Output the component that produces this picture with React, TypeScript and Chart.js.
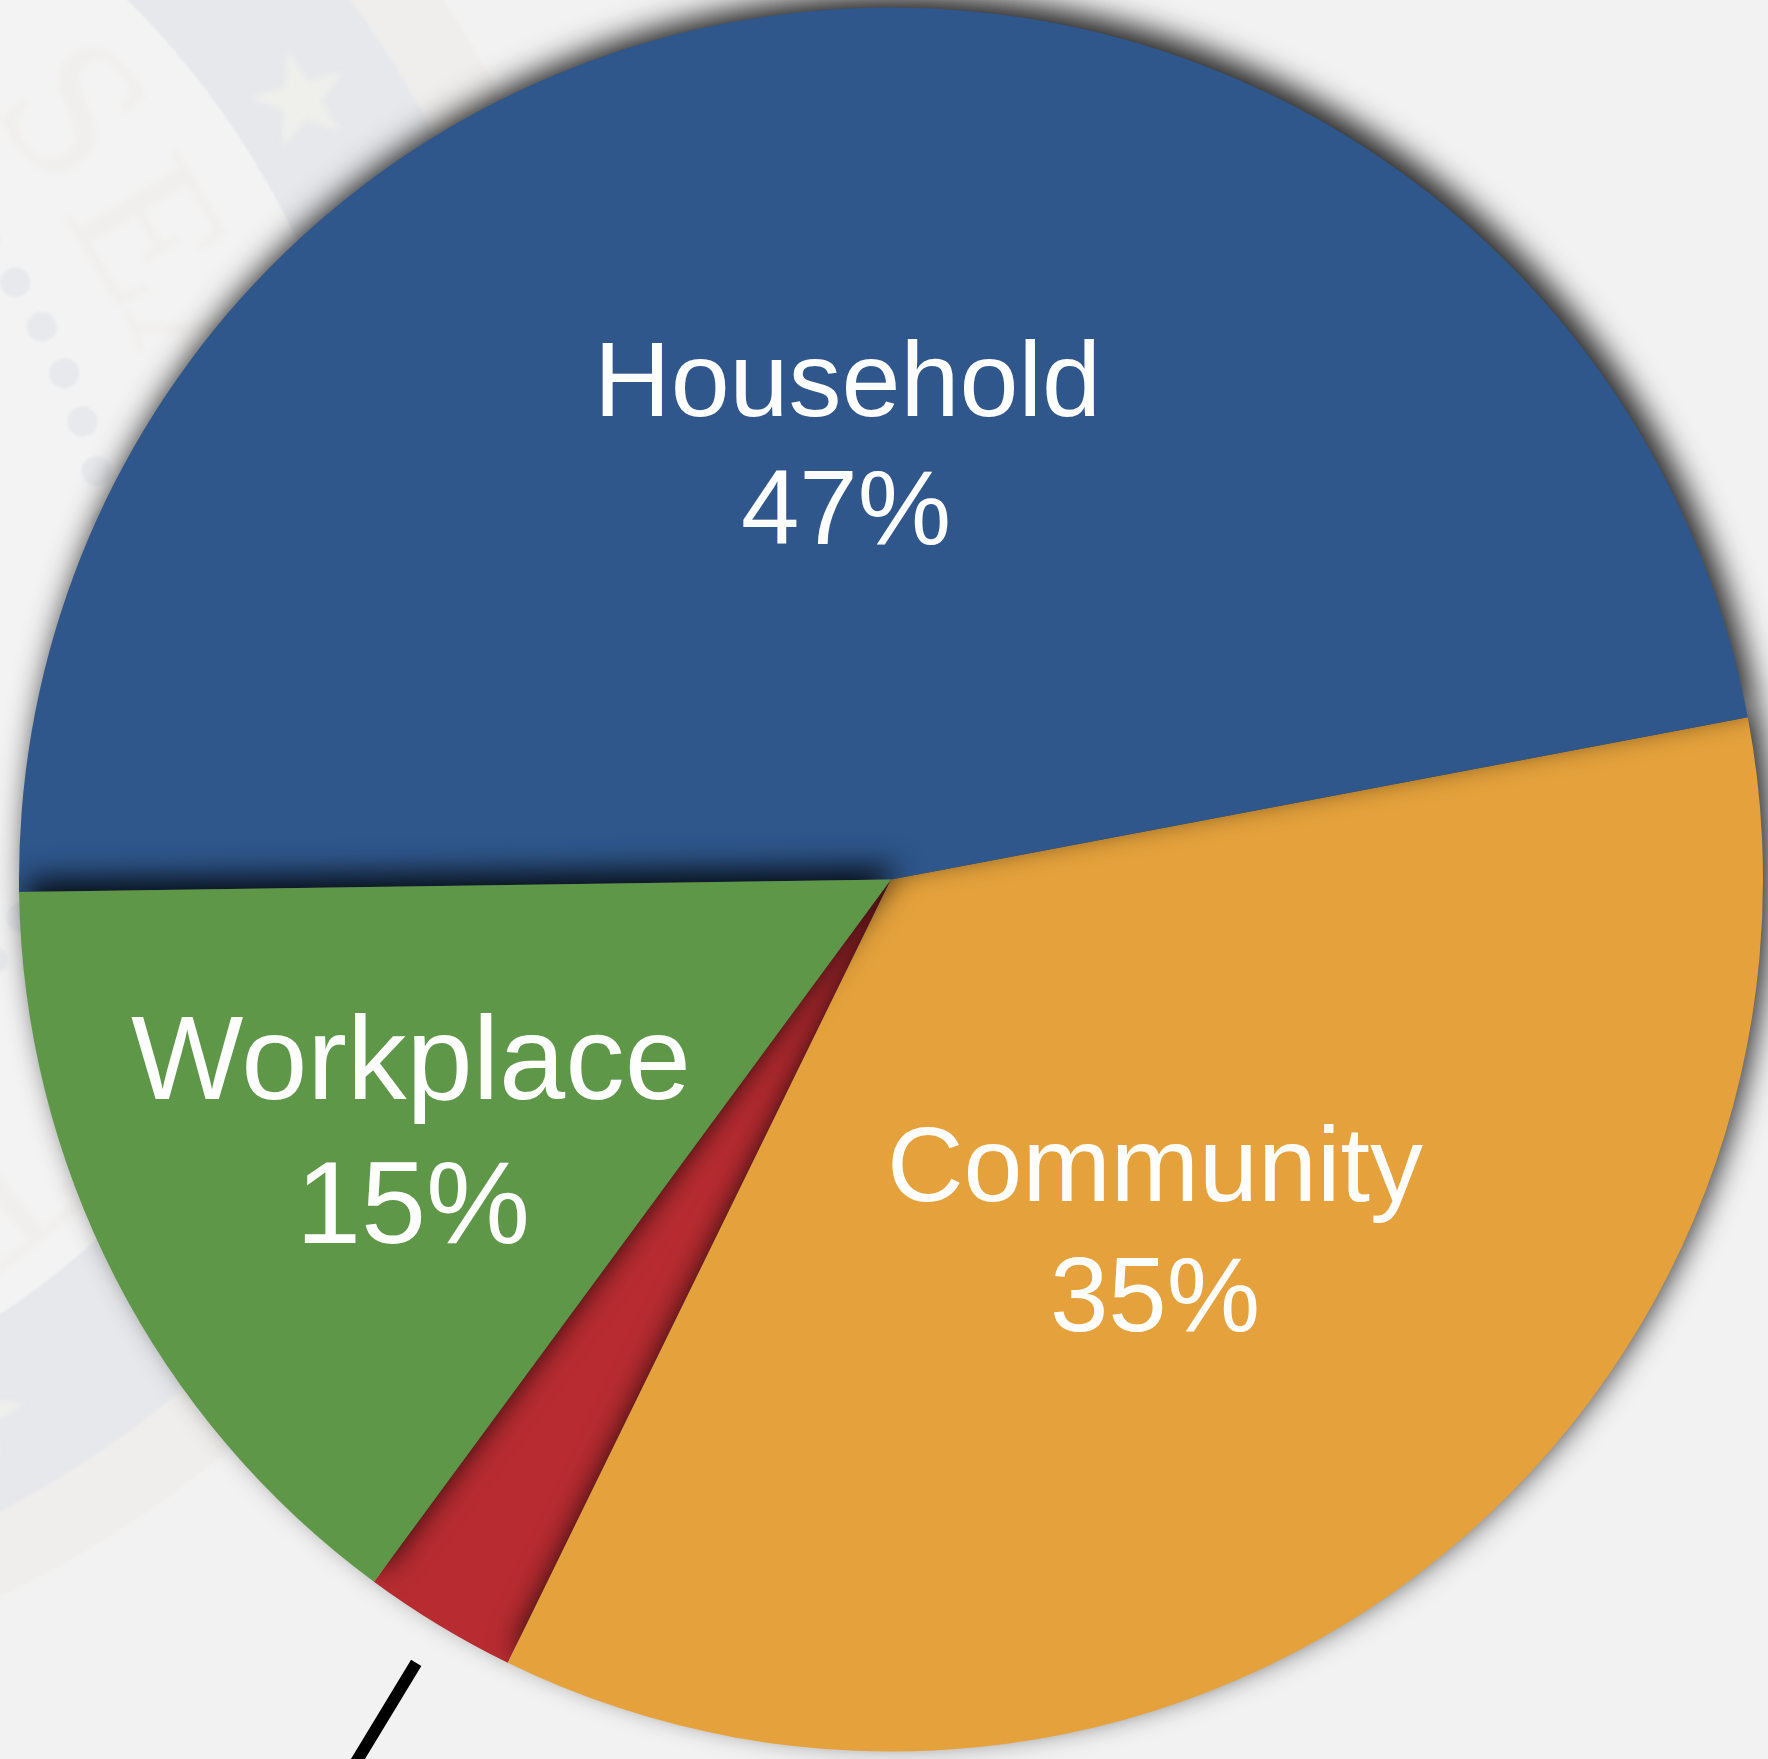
import React, { useEffect, useRef } from "react";
import { Chart, registerables } from "chart.js";

Chart.register(...registerables);

// Data, clockwise from the start of the Household slice
const categories = ["Household", "Community", "Other", "Workplace"];
const shares = [47.25, 35.22, 2.86, 14.67];
const printedShares = ["47%", "35%", "", "15%"];
const sliceColors = ["#2f578c", "#e5a23c", "#b82c31", "#5f9749"];

// Paint order of the slices, lowest first (indices into the arrays above)
const paintOrder = [2, 1, 0, 3];

const W = 1768;
const H = 1759;
const RADIUS = 872;
const START_ANGLE = 269.18;

// Label placement relative to the pie centre, one entry per category
const labelStyle = [
  { size: 106, valueSize: 105, nameDx: -43.5, nameDy: -464, valueDx: -45, valueDy: -336 },
  { size: 106, valueSize: 105, nameDx: 264, nameDy: 321, valueDx: 264, valueDy: 451 },
  null,
  { size: 119, valueSize: 117, nameDx: -480, nameDy: 219, valueDx: -478, valueDy: 363 },
];

const sealRingStyle = { cx: -474, cy: 605, outer: 1099, mid: 1023, inner: 853 };
const sealLetters = [
  { ch: "S", angle: 47.9, r: 726 },
  { ch: "E", angle: 59, r: 714 },
  { ch: "A", angle: 70, r: 715 },
  { ch: "T", angle: 141, r: 740 },
];
const sealStarAngles = [56.9, 151];
const sealDotAngles = [41.45, 46.5, 51.55, 56.6, 61.65, 66.7, 71.75, 76.8, 81.85, 86.9, 91.95, 97, 102.05, 107.1, 112.15, 117.2, 122.25, 127.3, 132.35];

const sealPlugin = {
  id: "seal",
  beforeDraw(chart: any) {
    const { ctx } = chart;
    const s = sealRingStyle;
    ctx.save();
    ctx.fillStyle = "#f2f2f2";
    ctx.fillRect(0, 0, W, H);
    ctx.filter = "blur(1px)";
    const disc = (r: number, color: string) => {
      ctx.beginPath();
      ctx.arc(s.cx, s.cy, r, 0, Math.PI * 2);
      ctx.fillStyle = color;
      ctx.fill();
    };
    disc(s.outer, "#efeeec");
    disc(s.mid, "#e7e8eb");
    disc(s.inner, "#f3f3f3");

    const polar = (deg: number, r: number) => {
      const a = (deg * Math.PI) / 180;
      return [s.cx + r * Math.sin(a), s.cy - r * Math.cos(a)];
    };

    // ring of dots
    ctx.fillStyle = "#e8e9ec";
    for (const d of sealDotAngles) {
      const [x, y] = polar(d, 586);
      ctx.beginPath();
      ctx.arc(x, y, 15, 0, Math.PI * 2);
      ctx.fill();
    }

    // stars in the band
    ctx.filter = "blur(3px)";
    ctx.fillStyle = "#efefec";
    for (const deg of sealStarAngles) {
      const [x, y] = polar(deg, 925);
      ctx.save();
      ctx.translate(x, y);
      ctx.rotate((deg * Math.PI) / 180);
      ctx.beginPath();
      for (let i = 0; i < 10; i++) {
        const rad = i % 2 === 0 ? 52 : 20;
        const a = (i * Math.PI) / 5;
        ctx.lineTo(rad * Math.sin(a), -rad * Math.cos(a));
      }
      ctx.closePath();
      ctx.fill();
      ctx.restore();
    }

    // lettering
    ctx.filter = "blur(2px)";
    ctx.fillStyle = "#f0efed";
    ctx.font = '200px "Liberation Serif"';
    ctx.textAlign = "center";
    ctx.textBaseline = "middle";
    for (const l of sealLetters) {
      const [x, y] = polar(l.angle, l.r);
      ctx.save();
      ctx.translate(x, y);
      ctx.rotate((l.angle * Math.PI) / 180);
      ctx.fillText(l.ch, 0, 0);
      ctx.restore();
    }
    ctx.restore();
  },
};

const slicePlugin = {
  id: "slices",
  beforeDatasetDraw(chart: any, args: any) {
    const { ctx } = chart;
    const arcs = args.meta.data;
    ctx.save();
    ctx.shadowColor = "rgba(0,0,0,0.85)";
    ctx.shadowBlur = 30;
    ctx.shadowOffsetX = 8;
    ctx.shadowOffsetY = -13;
    for (const i of paintOrder) arcs[i].draw(ctx, chart.chartArea);
    ctx.restore();
    return false;
  },
  afterDatasetsDraw(chart: any) {
    const { ctx } = chart;
    const arcs = chart.getDatasetMeta(0).data;
    const cx = arcs[0].x;
    const cy = arcs[0].y;

    // leader line leaving the smallest slice along its mid-angle
    const smallest = shares.indexOf(Math.min(...shares));
    const arc = arcs[smallest];
    const mid = (arc.startAngle + arc.endAngle) / 2;
    ctx.save();
    ctx.strokeStyle = "#000";
    ctx.lineWidth = 12;
    ctx.beginPath();
    ctx.moveTo(cx + (arc.outerRadius + 44) * Math.cos(mid), cy + (arc.outerRadius + 44) * Math.sin(mid));
    ctx.lineTo(cx + (arc.outerRadius + 300) * Math.cos(mid), cy + (arc.outerRadius + 300) * Math.sin(mid));
    ctx.stroke();

    ctx.fillStyle = "#fff";
    ctx.textAlign = "center";
    ctx.textBaseline = "alphabetic";
    categories.forEach((name, i) => {
      const st = labelStyle[i];
      if (!st) return;
      ctx.font = `${st.size}px "Liberation Sans"`;
      ctx.fillText(name, cx + st.nameDx, cy + st.nameDy);
      ctx.font = `${st.valueSize}px "Liberation Sans"`;
      ctx.fillText(printedShares[i], cx + st.valueDx, cy + st.valueDy);
    });
    ctx.restore();
  },
};

export default function App() {
  const ref = useRef<HTMLCanvasElement>(null);
  useEffect(() => {
    document.body.style.margin = "0";
    const chart = new Chart(ref.current!, {
      type: "pie",
      data: {
        labels: categories,
        datasets: [
          {
            data: shares,
            backgroundColor: sliceColors,
            borderWidth: 0,
            clip: false,
          } as any,
        ],
      },
      options: {
        responsive: false,
        animation: false,
        devicePixelRatio: 1,
        rotation: START_ANGLE,
        radius: RADIUS,
        layout: { padding: { left: 14 } },
        plugins: { legend: { display: false }, tooltip: { enabled: false } },
      } as any,
      plugins: [sealPlugin, slicePlugin],
    });
    return () => chart.destroy();
  }, []);
  return (
    <div style={{ width: W, height: H, overflow: "hidden" }}>
      <canvas ref={ref} width={W} height={H} style={{ display: "block" }} />
    </div>
  );
}
